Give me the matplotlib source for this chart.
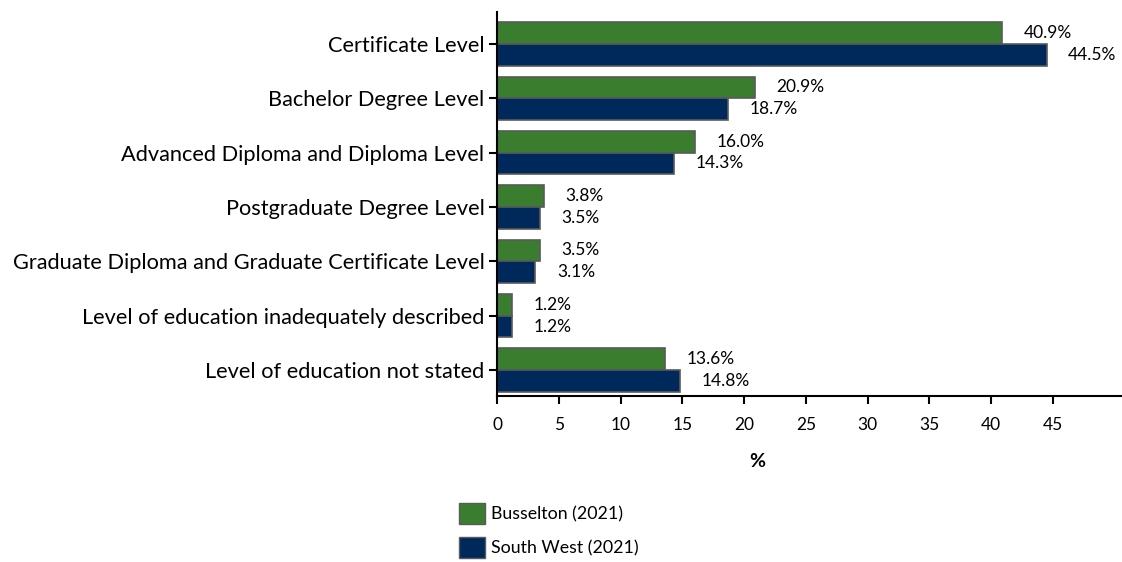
import numpy as np
import matplotlib.pyplot as plt
from matplotlib.patches import Patch

plt.rcParams['font.family'] = ['Lato', 'DejaVu Sans']

categories = ["Certificate Level", "Bachelor Degree Level", "Advanced Diploma and Diploma Level",
              "Postgraduate Degree Level", "Graduate Diploma and Graduate Certificate Level",
              "Level of education inadequately described", "Level of education not stated"]
busselton = [40.9, 20.9, 16.0, 3.8, 3.5, 1.2, 13.6]
south_west = [44.5, 18.7, 14.3, 3.5, 3.1, 1.2, 14.8]
series_names = ["Busselton (2021)", "South West (2021)"]
colors = ["#3a7d2f", "#00295b"]

fig = plt.figure(figsize=(11.22, 5.62), dpi=100)
ax = fig.add_axes([0.443, 0.295, 0.557, 0.684])

y = np.arange(len(categories))
h = 0.4
ax.barh(y - h / 2, busselton, height=h, color=colors[0], edgecolor="#5a5a5a", linewidth=1.2)
ax.barh(y + h / 2, south_west, height=h, color=colors[1], edgecolor="#5a5a5a", linewidth=1.2)

# werte an die balken
for i in range(len(categories)):
    ax.annotate(f"{busselton[i]:.1f}%", (busselton[i], y[i] - h / 2), xytext=(15.5, 0),
                textcoords="offset points", va="center", ha="left", fontsize=12.5)
    ax.annotate(f"{south_west[i]:.1f}%", (south_west[i], y[i] + h / 2), xytext=(15.5, 0),
                textcoords="offset points", va="center", ha="left", fontsize=12.5)

ax.set_yticks(y)
ax.set_yticklabels(categories, fontsize=15.7)
ax.set_ylim(6.48, -0.59)
ax.set_xlim(0, 50.6)
ax.set_xticks(range(0, 50, 5))
ax.tick_params(axis="x", labelsize=12.5, length=6, width=1.5, pad=9)
ax.tick_params(axis="y", length=6, width=1.5, pad=3)

for s in ["top", "right"]:
    ax.spines[s].set_visible(False)
for s in ["left", "bottom"]:
    ax.spines[s].set_linewidth(1.5)

ax.set_xlabel("%", fontsize=14, fontweight="bold")
ax.xaxis.set_label_coords(0.417, -0.149)

handles = [Patch(facecolor=colors[0], edgecolor="#5a5a5a"),
           Patch(facecolor=colors[1], edgecolor="#5a5a5a")]
fig.legend(handles, series_names, loc="upper left", bbox_to_anchor=(0.395, 0.134),
           frameon=False, fontsize=12.8, handlelength=1.45, handleheight=1.45,
           handletextpad=0.35, labelspacing=0.75)

fig.savefig("out.png", dpi=100)
